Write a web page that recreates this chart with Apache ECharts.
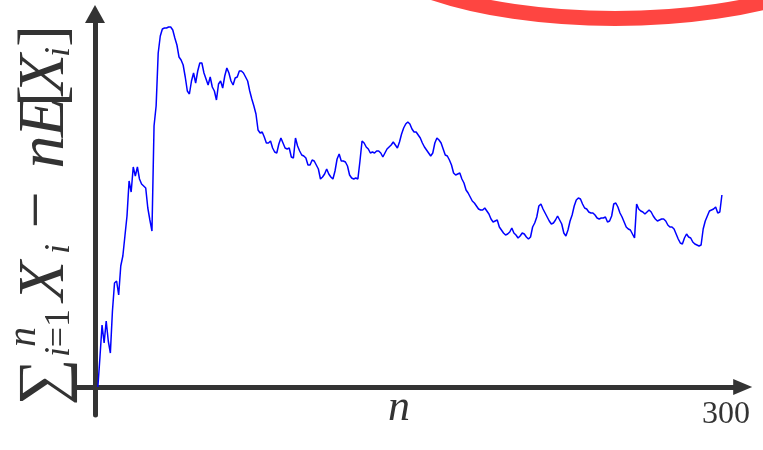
<!DOCTYPE html>
<html>
<head>
<meta charset="utf-8">
<script src="https://cdn.jsdelivr.net/npm/echarts@6/dist/echarts.min.js"></script>
<style>
  html, body { margin: 0; padding: 0; background: #ffffff; }
  #chart { width: 763px; height: 450px; }
</style>
</head>
<body>
<div id="chart"></div>
<script>
// Centred random walk: S_n - n E[X_i], for n = 0 .. 300
const walk = [
  0, 30, 62, 44, 66, 46, 34, 76, 104, 106, 92, 121, 131, 151, 171, 206, 195, 220, 211, 220,
  208, 203, 201, 199, 179, 167, 156, 261, 281, 334, 351, 358, 359, 359, 360, 360, 357, 349, 342, 330,
  327, 322, 310, 296, 293, 306, 314, 304, 316, 324, 324, 314, 308, 302, 310, 300, 296, 287, 303, 306,
  299, 311, 319, 314, 306, 302, 309, 310, 316, 316, 314, 310, 306, 296, 288, 281, 273, 257, 254, 255,
  250, 244, 244, 246, 239, 235, 234, 243, 249, 244, 239, 238, 239, 230, 229, 249, 241, 236, 232, 231,
  229, 222, 222, 227, 226, 222, 218, 208, 210, 213, 218, 213, 210, 208, 216, 228, 233, 226, 226, 225,
  221, 212, 209, 208, 209, 208, 226, 246, 244, 240, 238, 234, 235, 234, 236, 236, 234, 230, 234, 238,
  240, 242, 245, 242, 239, 245, 253, 259, 263, 265, 263, 258, 255, 255, 252, 249, 244, 240, 237, 234,
  231, 234, 244, 249, 247, 244, 238, 232, 231, 227, 222, 214, 212, 213, 214, 208, 204, 197, 194, 190,
  186, 184, 181, 178, 177, 177, 179, 176, 173, 168, 165, 166, 167, 160, 157, 154, 152, 153, 155, 159,
  154, 152, 149, 151, 154, 153, 150, 148, 150, 160, 164, 170, 181, 183, 178, 174, 170, 166, 163, 164,
  167, 171, 167, 163, 154, 151, 157, 166, 172, 181, 187, 189, 188, 183, 179, 178, 175, 174, 174, 172,
  169, 168, 169, 169, 170, 165, 166, 171, 183, 184, 180, 174, 170, 165, 160, 158, 157, 153, 149, 183,
  178, 176, 175, 173, 175, 177, 175, 171, 168, 166, 167, 168, 168, 166, 162, 160, 160, 158, 153, 148,
  144, 143, 149, 153, 150, 149, 145, 143, 142, 141, 142, 158, 166, 171, 176, 177, 178, 180, 174, 175,
  192
];
const xTickLabels = [300];
const xAxisName = 'n';

const INK = '#333333';
const SERIF = '"Liberation Serif", "DejaVu Serif", serif';

// Vertical axis title: sum_{i=1}^{n} X_i - nE[X_i], set glyph by glyph and turned 90 degrees
const R = Math.PI / 2;
function glyph(text, x, y, size, italic, rotation) {
  return {
    type: 'text', x: x, y: y, rotation: rotation, silent: true,
    style: {
      text: text, fill: INK,
      font: (italic ? 'italic ' : '') + size + 'px ' + SERIF,
      align: 'center', verticalAlign: 'middle'
    }
  };
}
const yTitle = [
  glyph('\u2211', 46, 382, 66, false, R),
  glyph('n', 24, 337, 40, true, R),
  glyph('i', 60, 352, 36, true, R),
  glyph('=', 60, 337, 36, false, R),
  glyph('1', 60, 318, 36, false, R),
  glyph('X', 46, 281, 66, true, R),
  glyph('i', 60, 249, 36, true, R),
  glyph('\u2212', 40, 210, 66, false, R),
  glyph('n', 46, 152, 66, true, R),
  glyph('E', 46, 117, 66, true, R),
  glyph('[', 46, 96, 66, false, R),
  glyph('X', 46, 74, 66, true, R),
  glyph('i', 60, 52, 36, true, R),
  glyph(']', 46, 36, 66, false, R)
];
// Horizontal axis title, under the middle of the axis
const xTitle = glyph(xAxisName, 399, 408, 44, true, 0);

const chart = echarts.init(document.getElementById('chart'), null, { renderer: 'canvas' });
chart.setOption({
  animation: false,
  backgroundColor: '#ffffff',
  grid: { left: 75, right: 20.3, top: 14, bottom: 35, containLabel: false, outerBoundsMode: 'none' },
  xAxis: {
    type: 'value',
    min: -11,
    max: 310,
    axisLine: {
      onZero: true,
      symbol: ['none', 'triangle'],
      symbolSize: [16, 19],
      lineStyle: { color: INK, width: 5 }
    },
    axisTick: { show: false },
    splitLine: { show: false },
    axisLabel: {
      customValues: xTickLabels,
      fontFamily: SERIF, fontSize: 32, color: INK, margin: -16,
      padding: [0, 0, 0, 8]
    }
  },
  yAxis: {
    type: 'value',
    min: -28,
    max: 373,
    offset: -20,
    axisLine: {
      show: true,
      onZero: false,
      symbol: ['none', 'triangle'],
      symbolSize: [20, 18],
      lineStyle: { color: INK, width: 5 }
    },
    axisTick: { show: false },
    axisLabel: { show: false },
    splitLine: { show: false }
  },
  series: [{
    type: 'line',
    data: walk.map((v, n) => [n, v]),
    showSymbol: false,
    symbol: 'none',
    lineStyle: { color: '#0000ff', width: 1.5 },
    z: 3
  }],
  graphic: [
    {
      type: 'ellipse', silent: true, z: 10,
      shape: { cx: 615, cy: -71.5, rx: 260, ry: 90 },
      style: { fill: 'none', stroke: '#fe4541', lineWidth: 15 }
    },
    xTitle
  ].concat(yTitle)
});
</script>
</body>
</html>
